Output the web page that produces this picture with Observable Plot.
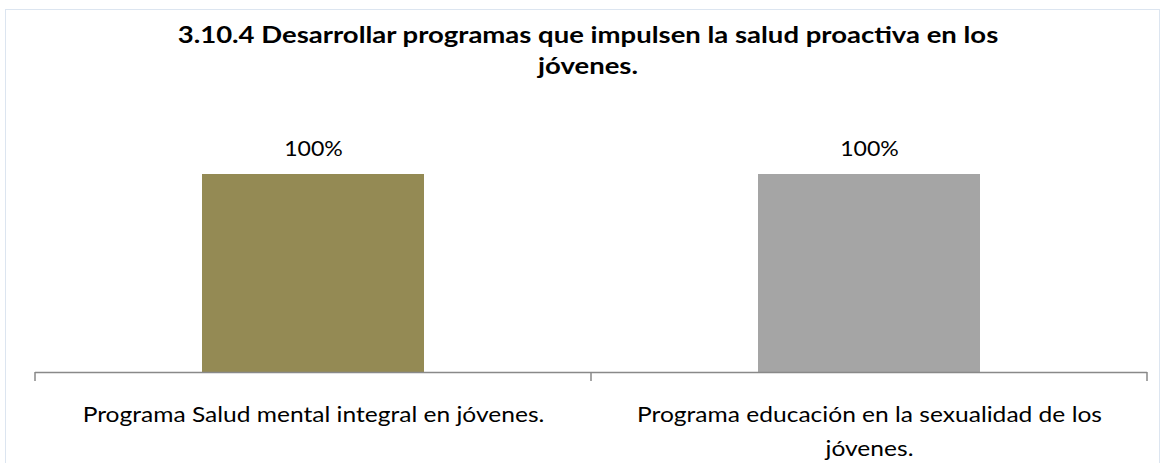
<!DOCTYPE html>
<html><head><meta charset="utf-8">
<script src="https://cdn.jsdelivr.net/npm/d3@7"></script>
<script src="https://cdn.jsdelivr.net/npm/@observablehq/plot@0.6"></script>
<style>
html,body{margin:0;padding:0;background:#fff;}
#wrap{position:relative;width:1167px;height:463px;overflow:hidden;}
#frame{position:absolute;left:5px;top:9px;width:1153px;height:480px;border:1.5px solid #DCE5F0;border-bottom:none;}
#title{position:absolute;left:0;top:0;width:1176px;text-align:center;font-family:Lato,sans-serif;font-weight:bold;font-size:22px;line-height:31px;padding-top:19px;color:#000;transform:scaleX(1.25);transform-origin:588px 0;}
#chart{position:absolute;left:0;top:84px;}
</style></head><body>
<div id="wrap"><div id="frame"></div><div id="title">3.10.4 Desarrollar programas que impulsen la salud proactiva en los<br>jóvenes.</div><div id="chart"></div></div>
<script>
const categories = ["Programa Salud mental integral en jóvenes.", "Programa educación en la sexualidad de los jóvenes."];
const values = [1, 1];
const colors = ["#948A54", "#A5A5A5"];
const valueLabels = ["100%", "100%"];
const tickLabels = ["Programa Salud mental integral en jóvenes.", "Programa educación en la sexualidad de los\njóvenes."];

const data = categories.map((c, i) => ({cat: c, value: values[i], color: colors[i], label: valueLabels[i]}));

const chart = Plot.plot({
  width: 1167, height: 379,
  marginLeft: 35, marginRight: 20, marginTop: 90, marginBottom: 91,
  style: {fontFamily: "Lato, sans-serif", fontSize: "21px", color: "#000", background: "transparent", overflow: "visible"},
  x: {domain: categories, paddingInner: 0.6, paddingOuter: 0.3, label: null},
  y: {domain: [0, 1], axis: null},
  color: {type: "identity"},
  marks: [
    Plot.barY(data, {x: "cat", y: "value", fill: "color"}),
    Plot.text(data, {x: "cat", y: "value", text: "label", dy: -26, fontSize: 22, fill: "#000", className: "vlabel"}),
    Plot.ruleY([0], {stroke: "#898989", strokeWidth: 1.5}),
    Plot.axisX({tickSize: 0, tickPadding: 26, fontSize: 21, lineHeight: 1.6, fill: "#000", label: null,
      tickFormat: c => tickLabels[categories.indexOf(c)]})
  ]
});
document.getElementById("chart").appendChild(chart);

// widen text horizontally to match the reference's stretched lettering
d3.select(chart).selectAll("g[aria-label='x-axis tick label'] text").each(function() {
  const t = this.getAttribute("transform") || "";
  this.setAttribute("transform", t + " scale(1.17,1)");
});
d3.select(chart).selectAll(".vlabel text").each(function() {
  const t = this.getAttribute("transform") || "";
  this.setAttribute("transform", t + " scale(1.05,1)");
});

const xs = chart.scale("x"), ys = chart.scale("y");
const half = (xs.step - xs.bandwidth) / 2;
const bounds = categories.map(c => xs.apply(c) - half).concat([xs.apply(categories[categories.length - 1]) + xs.bandwidth + half]);
const y0 = ys.apply(0);
d3.select(chart).append("g").selectAll("line").data(bounds).join("line")
  .attr("x1", d => d).attr("x2", d => d).attr("y1", y0).attr("y2", y0 + 9)
  .attr("stroke", "#898989").attr("stroke-width", 1.5);
</script>
</body></html>
